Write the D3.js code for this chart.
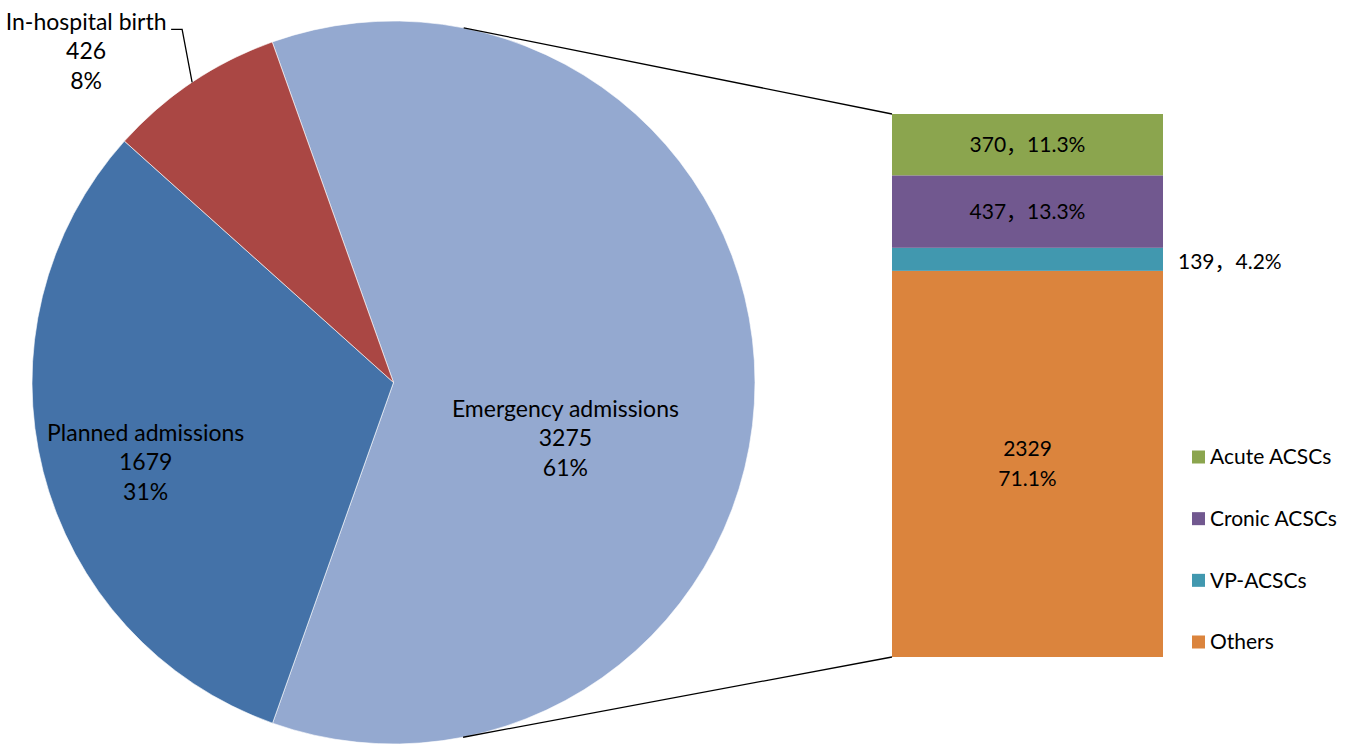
<!DOCTYPE html>
<html>
<head>
<meta charset="utf-8">
<script src="https://cdn.jsdelivr.net/npm/d3@7"></script>
<style>
  html, body { margin: 0; padding: 0; background: #fff; }
  text { font-family: Lato, "Noto Sans", "Noto Sans CJK SC", sans-serif; fill: #000; }
</style>
</head>
<body>
<div id="chart"></div>
<script>
var pieCategories = ["Emergency admissions", "Planned admissions", "In-hospital birth"];
var pieValues = [3275, 1679, 426];
var pieColors = ["#94a9d0", "#4472a8", "#aa4744"];

var barCategories = ["Acute ACSCs", "Cronic ACSCs", "VP-ACSCs", "Others"];
var barValues = [370, 437, 139, 2329];
var barColors = ["#8ba54e", "#71588f", "#4198af", "#db843d"];

window.onload = function() {
    'use strict';

    var width = 1353, height = 744;
    var cx = 393.5, cy = 382.5, radius = 361.5;
    var deg = Math.PI / 180;

    var svg = d3.select('#chart')
        .append('svg')
        .attr('width', width)
        .attr('height', height);

    // ---- pie ----
    var pieTotal = d3.sum(pieValues);
    var pieData = pieCategories.map(function(c, i) {
        return { label: c, value: pieValues[i], color: pieColors[i] };
    });

    var start = -19.6 * deg;
    var pie = d3.pie()
        .value(function(d) { return d.value; })
        .sort(null)
        .startAngle(start)
        .endAngle(start + 2 * Math.PI);

    var arc = d3.arc().innerRadius(0).outerRadius(radius);
    var arcs = pie(pieData);

    var g = svg.append('g')
        .attr('transform', 'translate(' + cx + ',' + cy + ')');

    g.selectAll('path')
        .data(arcs)
        .enter()
        .append('path')
        .attr('d', arc)
        .attr('fill', function(d) { return d.data.color; })
        .attr('stroke', '#fff')
        .attr('stroke-width', 0.6);

    function polar(angle, r) {
        return [Math.sin(angle) * r, -Math.cos(angle) * r];
    }

    var pct0 = d3.format('.0%');
    // label placement: radius fraction and angle shift per slice (like Excel best fit)
    var labelPlace = [
        { frac: 0.50, shift: 18 * deg },
        { frac: 0.72, shift: -3.5 * deg },
        { outside: true }
    ];
    var lineH = 29.5;

    arcs.forEach(function(a, i) {
        var lines = [a.data.label, String(a.data.value), pct0(a.data.value / pieTotal)];
        var mid = (a.startAngle + a.endAngle) / 2;
        var p;
        if (labelPlace[i].outside) {
            // outside label with leader line to the slice edge
            var edge = polar(mid, radius);
            p = [edge[0] - 106, edge[1] - 31];
            var ly = p[1] - 22;
            g.append('polyline')
                .attr('points', [[edge[0] - 21, ly], [edge[0] - 10, ly], edge].join(' '))
                .attr('fill', 'none')
                .attr('stroke', '#000')
                .attr('stroke-width', 1.3);
        } else {
            p = polar(mid + labelPlace[i].shift, radius * labelPlace[i].frac);
        }
        var t = g.append('text')
            .attr('text-anchor', 'middle')
            .attr('font-size', 23);
        lines.forEach(function(s, k) {
            t.append('tspan')
                .attr('x', p[0])
                .attr('y', p[1] + (k - 1) * lineH)
                .attr('dy', '0.35em')
                .text(s);
        });
    });

    // ---- stacked bar ----
    var barTotal = d3.sum(barValues);
    var y = d3.scaleLinear().domain([0, barTotal]).range([657, 114]);
    var x = d3.scaleBand().domain(['Emergency admissions']).range([892, 1163]).padding(0);

    var stackRow = {};
    barCategories.forEach(function(c, i) { stackRow[c] = barValues[i]; });
    var stackOrder = barCategories.slice().reverse(); // Others at bottom
    var series = d3.stack().keys(stackOrder)([stackRow]);

    var pct1 = d3.format('.1%');
    var bars = svg.append('g');
    series.forEach(function(s) {
        var idx = barCategories.indexOf(s.key);
        var d = s[0];
        var y0 = y(d[0]), y1 = y(d[1]);
        bars.append('rect')
            .attr('x', x('Emergency admissions'))
            .attr('width', x.bandwidth())
            .attr('y', y1)
            .attr('height', y0 - y1)
            .attr('fill', barColors[idx]);

        var v = barValues[idx], share = pct1(v / barTotal);
        var midY = (y0 + y1) / 2;
        var xc = x('Emergency admissions') + x.bandwidth() / 2;
        if (s.key === 'Others') {
            var t = bars.append('text').attr('text-anchor', 'middle').attr('font-size', 21);
            t.append('tspan').attr('x', xc).attr('y', midY - 15).attr('dy', '0.35em').text(String(v));
            t.append('tspan').attr('x', xc).attr('y', midY + 15).attr('dy', '0.35em').text(share);
        } else if (y0 - y1 < 30) {
            bars.append('text')
                .attr('x', x('Emergency admissions') + x.bandwidth() + 15)
                .attr('y', midY + 2)
                .attr('dy', '0.35em')
                .attr('font-size', 21)
                .text(v + '\uff0c' + share);
        } else {
            bars.append('text')
                .attr('x', xc)
                .attr('y', midY)
                .attr('dy', '0.35em')
                .attr('text-anchor', 'middle')
                .attr('font-size', 21)
                .text(v + '\uff0c' + share);
        }
    });

    // ---- connector lines from pie to bar ----
    var topPt = polar(11.2 * deg, radius);
    var botPt = polar(168.9 * deg, radius);
    svg.append('line')
        .attr('x1', cx + topPt[0]).attr('y1', cy + topPt[1])
        .attr('x2', x.range()[0]).attr('y2', y(barTotal))
        .attr('stroke', '#000').attr('stroke-width', 1.3);
    svg.append('line')
        .attr('x1', cx + botPt[0]).attr('y1', cy + botPt[1])
        .attr('x2', x.range()[0]).attr('y2', y(0))
        .attr('stroke', '#000').attr('stroke-width', 1.3);

    // ---- legend ----
    var legend = svg.append('g');
    var legendY = d3.scalePoint().domain(barCategories).range([457, 642]);
    barCategories.forEach(function(c, i) {
        var ly = legendY(c);
        legend.append('rect')
            .attr('x', 1192).attr('y', ly - 6.5)
            .attr('width', 13).attr('height', 13)
            .attr('fill', barColors[i]);
        legend.append('text')
            .attr('x', 1210).attr('y', ly)
            .attr('dy', '0.35em')
            .attr('font-size', 21)
            .text(c);
    });
};
</script>
</body>
</html>
